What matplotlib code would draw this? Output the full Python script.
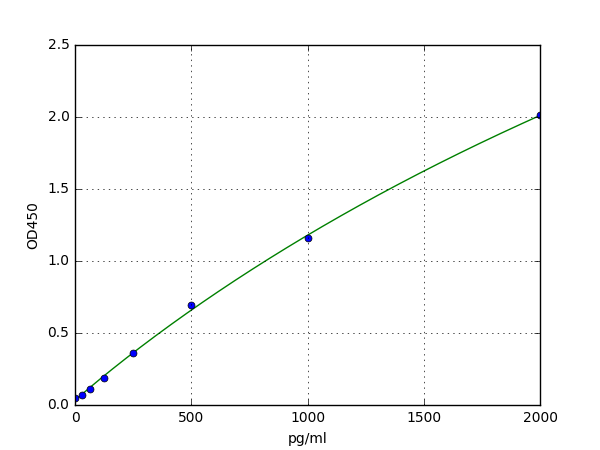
import matplotlib
matplotlib.use("Agg")
import matplotlib.pyplot as plt
import numpy as np

# standard concentrations and measured OD
conc = [0, 31.25, 62.5, 125, 250, 500, 1000, 2000]
od450 = [0.049, 0.067, 0.113, 0.185, 0.363, 0.692, 1.157, 2.015]


def four_pl(x, p):
    a, b, c, d = p
    return d + (a - d) / (1.0 + (np.asarray(x, float) / c) ** b)


def fit_4pl(x, y, p0, n_iter=500):
    """small Levenberg-Marquardt fit, no scipy here"""
    x = np.asarray(x, float)
    y = np.asarray(y, float)
    p = np.array(p0, float)
    lam = 1e-3
    err = np.sum((four_pl(x, p) - y) ** 2)
    for _ in range(n_iter):
        r = y - four_pl(x, p)
        J = np.zeros((len(x), len(p)))
        for j in range(len(p)):
            h = 1e-6 * max(abs(p[j]), 1e-3)
            dp = p.copy()
            dp[j] += h
            J[:, j] = (four_pl(x, dp) - four_pl(x, p)) / h
        A = J.T @ J
        g = J.T @ r
        step = np.linalg.solve(A + lam * np.diag(np.diag(A)), g)
        p_new = p + step
        if p_new[1] <= 0 or p_new[2] <= 0:
            lam *= 10
            continue
        err_new = np.sum((four_pl(x, p_new) - y) ** 2)
        if err_new < err:
            p, err = p_new, err_new
            lam /= 10
        else:
            lam *= 10
    return p


plt.style.use("classic")
fig = plt.figure(figsize=(6, 4.5), dpi=100)
ax = fig.add_subplot(111)

# fitted standard curve
params = fit_4pl(conc, od450, [0.04, 1.0, 3000.0, 5.0])
xs = np.linspace(0, 2000, 300)
ax.plot(xs, four_pl(xs, params), "g-")
ax.plot(conc, od450, "bo", markersize=5)

ax.set_xlim(0, 2000)
ax.set_ylim(0, 2.5)
ax.set_xticks([0, 500, 1000, 1500, 2000])
ax.set_yticks([0.0, 0.5, 1.0, 1.5, 2.0, 2.5])
ax.tick_params(labelsize=10)
ax.grid(True)
ax.set_xlabel("pg/ml", fontsize=10)
ax.set_ylabel("OD450", fontsize=10)

fig.savefig("out.png", dpi=100)
